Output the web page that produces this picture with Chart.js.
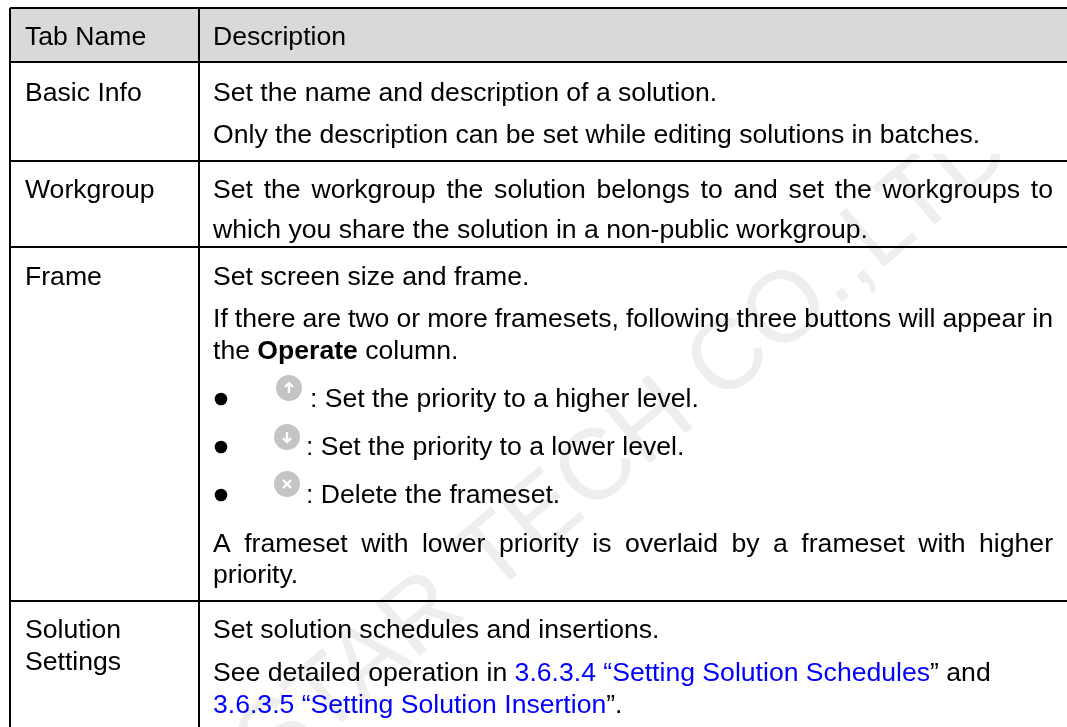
<!DOCTYPE html>
<html>
<head>
<meta charset="utf-8">
<title>Tab Name / Description</title>
<script src="https://cdn.jsdelivr.net/npm/chart.js@4"></script>
<style>
  html, body { margin: 0; padding: 0; background: #fff; }
  #wrap { position: relative; width: 1067px; height: 727px; }
</style>
</head>
<body>
<div id="wrap"><canvas id="grafico"></canvas></div>
<script>
// Table content
var headers = ['Tab Name', 'Description'];
var tabNames = [
  ['Basic Info'],
  ['Workgroup'],
  ['Frame'],
  ['Solution', 'Settings']
];
var watermark = 'NOVASTAR TECH CO.,LTD';

// Each line: text runs, 'n' normal, 'b' bold, 'l' link colour
var basicLines = [
  [['n', 'Set the name and description of a solution.']],
  [['n', 'Only the description can be set while editing solutions in batches.']]
];
var workgroupLines = [
  [['n', 'Set the workgroup the solution belongs to and set the workgroups to']],
  [['n', 'which you share the solution in a non-public workgroup.']]
];
var frameLines = [
  [['n', 'Set screen size and frame.']],
  [['n', 'If there are two or more framesets, following three buttons will appear in']],
  [['n', 'the '], ['b', 'Operate'], ['n', ' column.']],
  [['n', ': Set the priority to a higher level.']],
  [['n', ': Set the priority to a lower level.']],
  [['n', ': Delete the frameset.']],
  [['n', 'A frameset with lower priority is overlaid by a frameset with higher']],
  [['n', 'priority.']]
];
var settingsLines = [
  [['n', 'Set solution schedules and insertions.']],
  [['n', 'See detailed operation in '], ['l', '3.6.3.4 \u201cSetting Solution Schedules'], ['n', '\u201d and']],
  [['l', '3.6.3.5 \u201cSetting Solution Insertion'], ['n', '\u201d.']]
];

// Rule positions, on the page's axes
var columnRules = [10, 199];
var rowRules = [8, 62, 161, 247, 601];
var pageWidth = 1067;
var pageHeight = 727;

var font = '"Liberation Sans", Arial, sans-serif';
var fontSize = 26.6;

function lijn(points, width) {
  return {
    type: 'line',
    data: points,
    borderColor: '#000',
    borderWidth: width,
    pointRadius: 0,
    fill: false,
    order: 1
  };
}

var datasets = [];

// Grey header band
datasets.push({
  type: 'line',
  data: [{ x: columnRules[0], y: rowRules[0] }, { x: pageWidth, y: rowRules[0] }],
  borderWidth: 0,
  pointRadius: 0,
  backgroundColor: '#d9d9d9',
  fill: { value: rowRules[1] },
  order: 3
});

rowRules.forEach(function (y) {
  datasets.push(lijn([{ x: columnRules[0], y: y }, { x: pageWidth, y: y }], 2));
});
columnRules.forEach(function (x) {
  datasets.push(lijn([{ x: x, y: rowRules[0] }, { x: x, y: pageHeight }], 2));
});

function fontFor(kind) {
  return (kind === 'b' ? 'bold ' : '') + fontSize + 'px ' + font;
}

function lineWidth(ctx, runs) {
  var total = 0;
  runs.forEach(function (run) {
    ctx.font = fontFor(run[0]);
    total += ctx.measureText(run[1]).width;
  });
  return total;
}

function drawLine(ctx, runs, x, y, justifyTo) {
  var extra = 0;
  if (justifyTo) {
    var gaps = runs[0][1].split(' ').length - 1;
    extra = (justifyTo - x - lineWidth(ctx, runs)) / gaps;
  }
  runs.forEach(function (run) {
    ctx.font = fontFor(run[0]);
    ctx.fillStyle = run[0] === 'l' ? '#0000ff' : '#000';
    ctx.wordSpacing = extra + 'px';
    ctx.fillText(run[1], x, y);
    x += ctx.measureText(run[1]).width;
  });
  ctx.wordSpacing = '0px';
}

function drawIcon(ctx, cx, cy, kind) {
  ctx.fillStyle = '#c4c4c4';
  ctx.beginPath();
  ctx.arc(cx, cy, 13, 0, Math.PI * 2);
  ctx.fill();
  ctx.strokeStyle = '#fff';
  ctx.lineWidth = 2.4;
  ctx.beginPath();
  if (kind === 'x') {
    ctx.moveTo(cx - 4, cy - 4); ctx.lineTo(cx + 4, cy + 4);
    ctx.moveTo(cx + 4, cy - 4); ctx.lineTo(cx - 4, cy + 4);
  } else {
    var d = kind === 'up' ? -1 : 1;
    ctx.moveTo(cx, cy - 5 * d); ctx.lineTo(cx, cy + 5 * d);
    ctx.moveTo(cx - 4, cy + d); ctx.lineTo(cx, cy + 5 * d); ctx.lineTo(cx + 4, cy + d);
  }
  ctx.stroke();
}

// Watermark goes under the rules, the table text over them
var tekstPlugin = {
  id: 'tekst',
  beforeDatasetsDraw: function (chart) {
    var ctx = chart.ctx;
    var sx = chart.scales.x, sy = chart.scales.y;
    ctx.save();
    // in the picture the watermark stops just above the Workgroup row
    ctx.beginPath();
    ctx.rect(0, sy.getPixelForValue(154), chart.width, chart.height);
    ctx.clip();
    ctx.translate(sx.getPixelForValue(520), sy.getPixelForValue(536));
    ctx.rotate(-40 * Math.PI / 180);
    ctx.font = '100px ' + font;
    ctx.fillStyle = '#eeeeee';
    ctx.textAlign = 'center';
    ctx.textBaseline = 'middle';
    ctx.fillText(watermark, 0, 0);
    ctx.restore();
  },
  afterDatasetsDraw: function (chart) {
    var ctx = chart.ctx;
    var sx = chart.scales.x, sy = chart.scales.y;
    var left = sx.getPixelForValue(25);
    var mid = sx.getPixelForValue(213);
    var right = sx.getPixelForValue(1053);
    ctx.save();
    ctx.textBaseline = 'alphabetic';

    function y(v) { return sy.getPixelForValue(v); }

    drawLine(ctx, [['n', headers[0]]], left, y(45));
    drawLine(ctx, [['n', headers[1]]], mid, y(45));

    drawLine(ctx, [['n', tabNames[0][0]]], left, y(101));
    drawLine(ctx, [['n', tabNames[1][0]]], left, y(198));
    drawLine(ctx, [['n', tabNames[2][0]]], left, y(285));
    drawLine(ctx, [['n', tabNames[3][0]]], left, y(638));
    drawLine(ctx, [['n', tabNames[3][1]]], left, y(670));

    drawLine(ctx, basicLines[0], mid, y(101));
    drawLine(ctx, basicLines[1], mid, y(143));
    drawLine(ctx, workgroupLines[0], mid, y(198), right);
    drawLine(ctx, workgroupLines[1], mid, y(238));

    drawLine(ctx, frameLines[0], mid, y(285));
    drawLine(ctx, frameLines[1], mid, y(327), right);
    drawLine(ctx, frameLines[2], mid, y(359));
    drawLine(ctx, frameLines[3], sx.getPixelForValue(310), y(407));
    drawLine(ctx, frameLines[4], sx.getPixelForValue(306), y(455));
    drawLine(ctx, frameLines[5], sx.getPixelForValue(306), y(503));
    drawLine(ctx, frameLines[6], mid, y(552), right);
    drawLine(ctx, frameLines[7], mid, y(583));

    drawLine(ctx, settingsLines[0], mid, y(638));
    drawLine(ctx, settingsLines[1], mid, y(681));
    drawLine(ctx, settingsLines[2], mid, y(713));

    // Bullets and grey buttons of the Frame row
    [[399, 'up', 289, 388], [447, 'down', 287, 437], [495, 'x', 287, 484]].forEach(function (b) {
      ctx.fillStyle = '#000';
      ctx.beginPath();
      ctx.arc(sx.getPixelForValue(221), y(b[0]), 6.3, 0, Math.PI * 2);
      ctx.fill();
      drawIcon(ctx, sx.getPixelForValue(b[2]), y(b[3]), b[1]);
    });
    ctx.restore();
  }
};

var ctx = document.getElementById('grafico').getContext('2d');

var grafico = new Chart(ctx, {
  type: 'scatter',
  data: { datasets: datasets },
  plugins: [tekstPlugin],
  options: {
    responsive: true,
    maintainAspectRatio: false,
    animation: false,
    layout: { padding: 0 },
    plugins: { legend: { display: false }, tooltip: { enabled: false } },
    scales: {
      x: { type: 'linear', min: 0, max: pageWidth, display: false },
      y: { type: 'linear', min: 0, max: pageHeight, reverse: true, display: false }
    }
  }
});
</script>
</body>
</html>
